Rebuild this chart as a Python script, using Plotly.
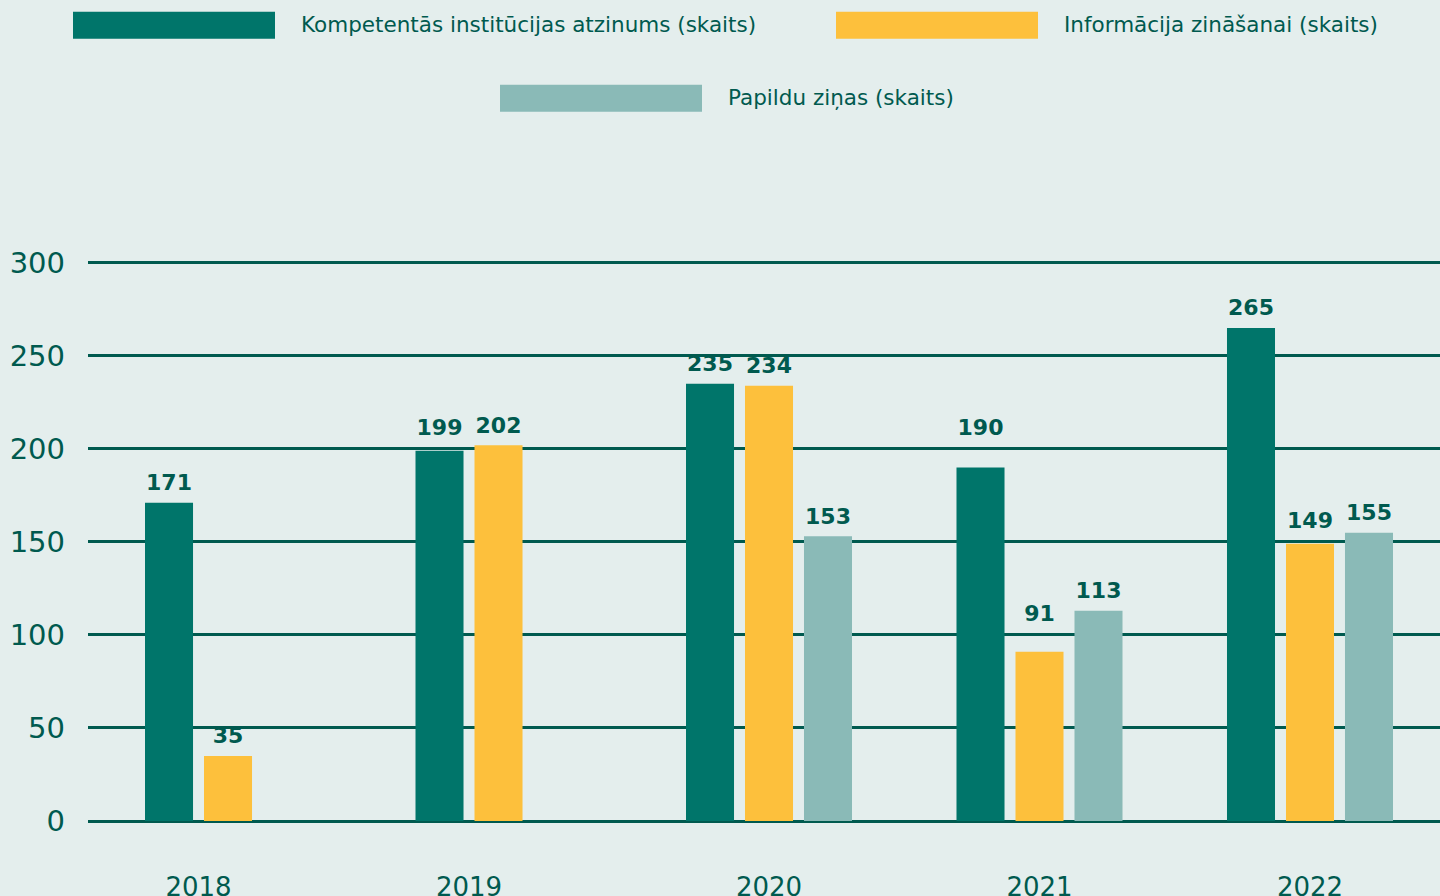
import plotly.graph_objects as go

years = ["2018", "2019", "2020", "2021", "2022"]
series_names = [
    "Kompetentās institūcijas atzinums (skaits)",
    "Informācija zināšanai (skaits)",
    "Papildu ziņas (skaits)",
]
atzinums = [171, 199, 235, 190, 265]
informacija = [35, 202, 234, 91, 149]
papildu = [None, None, 153, 113, 155]
y_ticks = [0, 50, 100, 150, 200, 250, 300]

colors = ["#00756a", "#fdc03c", "#8abab7"]
dark = "#005a4f"
bg = "#e4eeed"
font_family = "DejaVu Sans, Verdana, sans-serif"

W, H = 1440, 896
Y_TOP = 301
ML, MR, MB = 88, 0, 75
MT = (H - MB) - 558 * Y_TOP / 300
PXU = (H - MT - MB) / Y_TOP  # pixels per data unit
bargap = 0.3457
bargroupgap = 0.186
n_series = 3
slot = (1 - bargap) / n_series

values = [atzinums, informacija, papildu]

fig = go.Figure()
for name, vals, col in zip(series_names, values, colors):
    fig.add_trace(go.Bar(
        x=list(range(len(years))), y=vals, name=name,
        marker=dict(color=col, line=dict(width=0)),
        showlegend=False, hoverinfo="x+y",
    ))

# value labels: above the bar, lifted clear of a gridline when they would touch it
LABEL_GAP, LABEL_H, GRID_CLEAR = 7, 16, 8


def label_base(v):
    base = v + LABEL_GAP / PXU
    for g in y_ticks:
        if v - 3 / PXU <= g <= base + (LABEL_H + 2) / PXU:
            base = max(base, g + GRID_CLEAR / PXU)
    return base


lx, ly, lt = [], [], []
for k, vals in enumerate(values):
    for i, v in enumerate(vals):
        if v is None:
            continue
        lx.append(i + (-(n_series - 1) / 2 + k) * slot)
        ly.append(label_base(v))
        lt.append(str(v))
fig.add_trace(go.Scatter(
    x=lx, y=ly, text=lt, mode="text", textposition="top center",
    textfont=dict(family=font_family, size=22, color=dark, weight="bold"),
    cliponaxis=False, showlegend=False, hoverinfo="skip",
))

# tick positions: centre of the bars actually present in each category
tickvals = []
for i in range(len(years)):
    offs = [(-(n_series - 1) / 2 + k) * slot for k in range(n_series) if values[k][i] is not None]
    tickvals.append(i + sum(offs) / len(offs))


def px_to_paper(px, py):
    return (px - ML) / (W - ML - MR), (H - MB - py) / (H - MT - MB)


shapes, annotations = [], []
legend_layout = [(73, 12, 0), (836, 12, 1), (500, 85, 2)]
for x0, y0, k in legend_layout:
    ax0, ay0 = px_to_paper(x0, y0)
    ax1, ay1 = px_to_paper(x0 + 202, y0 + 27)
    shapes.append(dict(type="rect", xref="paper", yref="paper", x0=ax0, x1=ax1, y0=ay1, y1=ay0,
                       fillcolor=colors[k], line=dict(width=0), layer="above"))
    tx, ty = px_to_paper(x0 + 226, y0 + 12.5)
    annotations.append(dict(xref="paper", yref="paper", x=tx, y=ty, xanchor="left", yanchor="middle",
                            text=series_names[k], showarrow=False,
                            font=dict(family=font_family, size=21.5, color=dark)))

fig.update_layout(
    width=W, height=H,
    margin=dict(l=ML, r=MR, t=MT, b=MB, autoexpand=False),
    paper_bgcolor=bg, plot_bgcolor=bg,
    barmode="group", bargap=bargap, bargroupgap=bargroupgap,
    shapes=shapes, annotations=annotations,
    xaxis=dict(
        range=[-0.5176, 4.4806], tickvals=tickvals, ticktext=years,
        showgrid=False, zeroline=False, showline=False, ticks="",
        tickfont=dict(family=font_family, size=26, color=dark),
        ticklabelstandoff=48, automargin=False,
    ),
    yaxis=dict(
        range=[0, Y_TOP], tickvals=y_ticks, ticks="",
        showgrid=True, gridcolor=dark, gridwidth=3,
        zeroline=True, zerolinecolor=dark, zerolinewidth=3,
        showline=False,
        tickfont=dict(family=font_family, size=29, color=dark),
        ticklabelstandoff=22, automargin=False,
    ),
)

fig.write_html(
    "out.html",
    config={"displayModeBar": False},
    post_script="document.body.style.margin='0';document.body.style.background='%s';" % bg,
)
